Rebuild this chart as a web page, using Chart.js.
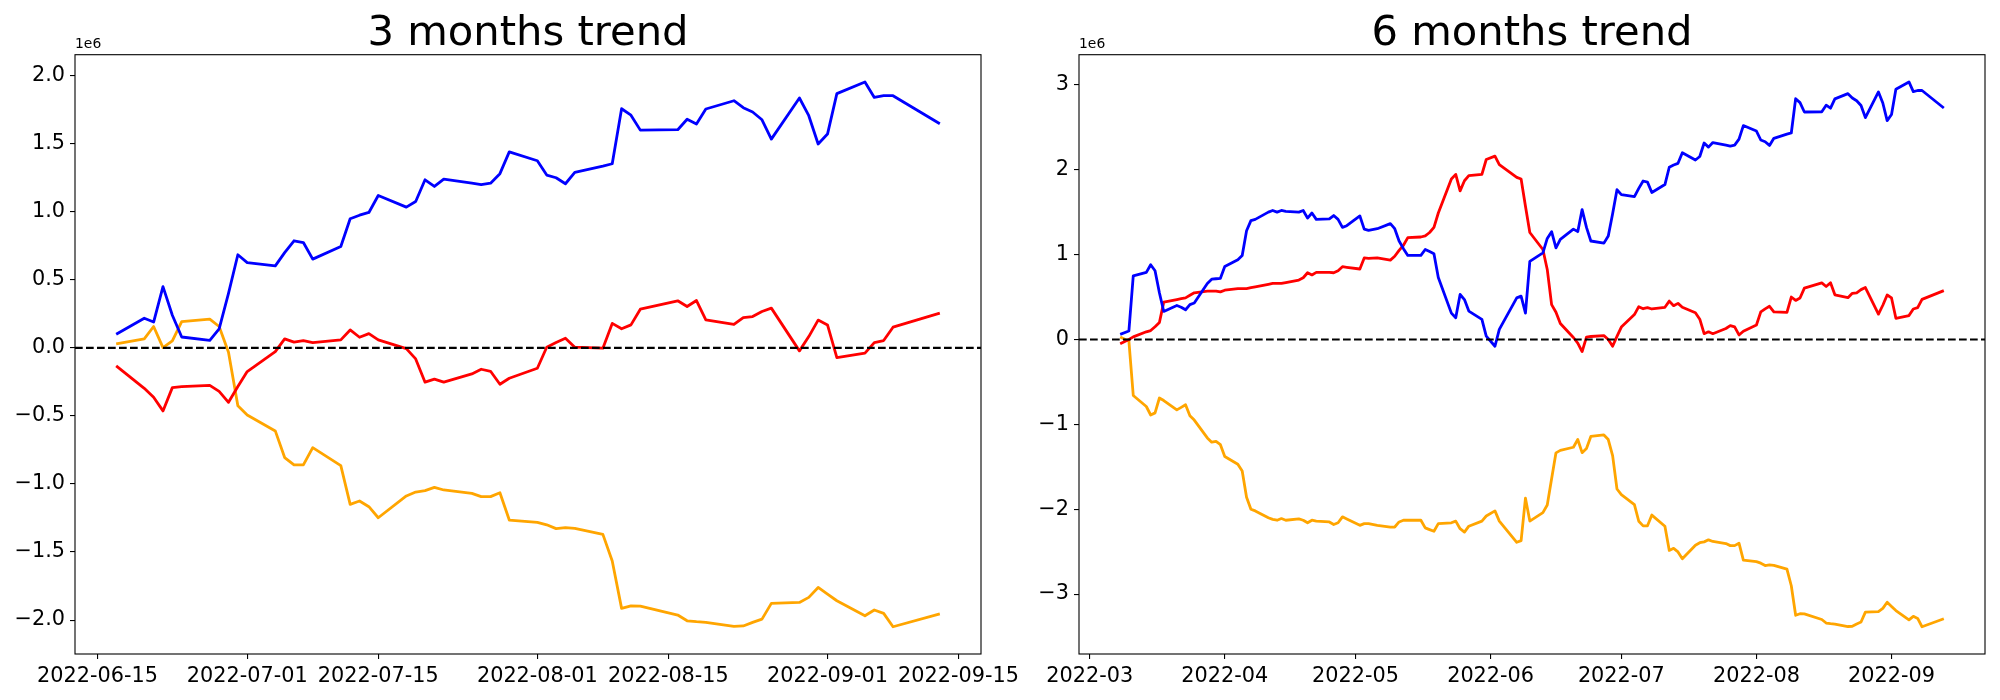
<!DOCTYPE html>
<html>
<head>
<meta charset="utf-8">
<script src="https://cdn.jsdelivr.net/npm/chart.js@4.4.0/dist/chart.umd.min.js"></script>
<style>
html, body { margin: 0; padding: 0; background: #fff; overflow: hidden; }
#wrap { position: relative; width: 2000px; height: 700px; }
canvas { position: absolute; top: 0; }
</style>
</head>
<body>
<div id="wrap">
  <canvas id="left" width="1056" height="700" style="left:0;width:1056px;height:700px"></canvas>
  <canvas id="right" width="1000" height="700" style="left:1032px;width:1000px;height:700px"></canvas>
</div>
<script>
// trading days, 6 month window (values are cumulative, in units of 1e6)
const dates6 = [
  '2022-03-08','2022-03-10','2022-03-11','2022-03-14','2022-03-15','2022-03-16','2022-03-17','2022-03-18','2022-03-21','2022-03-22','2022-03-23','2022-03-24','2022-03-25','2022-03-28','2022-03-29','2022-03-30','2022-03-31',
  '2022-04-01','2022-04-04','2022-04-05','2022-04-06','2022-04-07','2022-04-08','2022-04-11','2022-04-12','2022-04-13','2022-04-14','2022-04-15','2022-04-18','2022-04-19','2022-04-20','2022-04-21','2022-04-22','2022-04-25','2022-04-26','2022-04-27','2022-04-28','2022-04-29',
  '2022-05-02','2022-05-03','2022-05-04','2022-05-06','2022-05-09','2022-05-10','2022-05-11','2022-05-12','2022-05-13','2022-05-16','2022-05-17','2022-05-18','2022-05-19','2022-05-20','2022-05-23','2022-05-24','2022-05-25','2022-05-26','2022-05-27','2022-05-30','2022-05-31',
  '2022-06-02','2022-06-03','2022-06-07','2022-06-08','2022-06-09','2022-06-10','2022-06-13','2022-06-14','2022-06-15','2022-06-16',
  '2022-06-17','2022-06-20','2022-06-21','2022-06-22','2022-06-23','2022-06-24','2022-06-27','2022-06-28','2022-06-29','2022-06-30',
  '2022-07-01','2022-07-04','2022-07-05','2022-07-06','2022-07-07','2022-07-08','2022-07-11','2022-07-12','2022-07-13','2022-07-14','2022-07-15','2022-07-18','2022-07-19','2022-07-20','2022-07-21','2022-07-22','2022-07-25','2022-07-26','2022-07-27','2022-07-28','2022-07-29',
  '2022-08-01','2022-08-02','2022-08-03','2022-08-04','2022-08-05','2022-08-08','2022-08-09','2022-08-10','2022-08-11','2022-08-12','2022-08-16','2022-08-17','2022-08-18','2022-08-19','2022-08-22','2022-08-23','2022-08-24','2022-08-25','2022-08-26','2022-08-29','2022-08-30','2022-08-31',
  '2022-09-01','2022-09-02','2022-09-05','2022-09-06','2022-09-07','2022-09-08','2022-09-13'
]
// the 3 month window is the last 60 trading days
const dates3 = dates6.slice(-60)

const blue6 = [
  0.06, 0.10, 0.75, 0.79, 0.88, 0.81, 0.55, 0.33, 0.40, 0.38, 0.35, 0.41, 0.43, 0.66, 0.71, 0.715, 0.72,
  0.86, 0.94, 0.99, 1.28, 1.40, 1.415, 1.50, 1.52, 1.50, 1.52, 1.51, 1.50, 1.52, 1.43, 1.49, 1.415, 1.42, 1.46, 1.415, 1.32, 1.34,
  1.455, 1.30, 1.285, 1.305, 1.365, 1.305, 1.16, 1.07, 0.99, 0.99, 1.06, 1.035, 1.01, 0.73, 0.31, 0.255, 0.53, 0.47, 0.334, 0.236, 0.04,
  -0.08, 0.118, 0.49, 0.51, 0.31, 0.92, 1.02, 1.19, 1.27, 1.08,
  1.18, 1.30, 1.27, 1.53, 1.32, 1.16, 1.135, 1.22, 1.48, 1.764,
  1.707, 1.683, 1.78, 1.867, 1.854, 1.732, 1.825, 2.029, 2.055, 2.075, 2.20, 2.114, 2.156, 2.315, 2.266, 2.32, 2.29, 2.279, 2.29, 2.36, 2.52,
  2.455, 2.35, 2.33, 2.286, 2.37, 2.42, 2.433, 2.837, 2.79, 2.68, 2.683, 2.76, 2.725, 2.835, 2.896, 2.845, 2.813, 2.756, 2.614, 2.916, 2.786, 2.578,
  2.651, 2.948, 3.034, 2.92, 2.933, 2.933, 2.727
]
const red6 = [
  -0.05, 0.0, 0.03, 0.09, 0.105, 0.15, 0.20, 0.44, 0.47, 0.48, 0.49, 0.52, 0.55, 0.57, 0.57, 0.57, 0.56,
  0.58, 0.60, 0.60, 0.60, 0.61, 0.62, 0.65, 0.66, 0.66, 0.66, 0.67, 0.70, 0.727, 0.786, 0.76, 0.79, 0.79, 0.786, 0.81, 0.857, 0.85,
  0.83, 0.96, 0.955, 0.96, 0.935, 0.98, 1.05, 1.11, 1.20, 1.207, 1.22, 1.26, 1.32, 1.49, 1.89, 1.945, 1.75, 1.87, 1.93, 1.945, 2.12,
  2.16, 2.06, 1.91, 1.89, 1.57, 1.26, 1.06, 0.825, 0.41, 0.32,
  0.188, 0.023, -0.043, -0.143, 0.028, 0.035, 0.045, 0.0, -0.08, 0.036,
  0.146, 0.293, 0.386, 0.362, 0.374, 0.359, 0.379, 0.452, 0.398, 0.425, 0.379, 0.315, 0.239, 0.068, 0.09, 0.068, 0.129, 0.163, 0.148, 0.053, 0.097,
  0.17, 0.325, 0.36, 0.391, 0.325, 0.318, 0.50, 0.46, 0.489, 0.604, 0.666, 0.624, 0.668, 0.526, 0.492, 0.543, 0.55, 0.587, 0.612, 0.298, 0.403, 0.524,
  0.489, 0.249, 0.281, 0.359, 0.374, 0.472, 0.575
]
const orange6 = [
  0.03, -0.02, -0.66, -0.79, -0.89, -0.865, -0.69, -0.72, -0.83, -0.80, -0.77, -0.90, -0.95, -1.16, -1.21, -1.20, -1.24,
  -1.38, -1.47, -1.55, -1.86, -2.0, -2.02, -2.10, -2.12, -2.13, -2.11, -2.13, -2.115, -2.13, -2.16, -2.13, -2.14, -2.15, -2.18, -2.16, -2.09, -2.115,
  -2.19, -2.17, -2.17, -2.19, -2.21, -2.21, -2.15, -2.13, -2.13, -2.13, -2.22, -2.24, -2.26, -2.17, -2.16, -2.14, -2.23, -2.27, -2.20, -2.14, -2.08,
  -2.02, -2.14, -2.39, -2.37, -1.87, -2.14, -2.04, -1.95, -1.64, -1.336,
  -1.307, -1.27, -1.179, -1.334, -1.285, -1.143, -1.125, -1.179, -1.368, -1.762,
  -1.829, -1.946, -2.142, -2.196, -2.196, -2.069, -2.201, -2.486, -2.461, -2.503, -2.584, -2.424, -2.395, -2.385, -2.361, -2.38, -2.405, -2.429, -2.429, -2.40, -2.601,
  -2.618, -2.636, -2.664, -2.657, -2.662, -2.706, -2.902, -3.25, -3.231, -3.233, -3.299, -3.341, -3.348, -3.353, -3.382, -3.379, -3.353, -3.329, -3.213, -3.206, -3.169, -3.096,
  -3.145, -3.194, -3.304, -3.262, -3.287, -3.385, -3.29
]

const blue3 = [
  0.10, 0.218, 0.19, 0.45, 0.24, 0.08, 0.055, 0.14, 0.40, 0.684,
  0.627, 0.603, 0.70, 0.787, 0.774, 0.652, 0.745, 0.949, 0.975, 0.995, 1.12, 1.034, 1.076, 1.235, 1.186, 1.24, 1.21, 1.199, 1.21, 1.28, 1.44,
  1.375, 1.27, 1.25, 1.206, 1.29, 1.336, 1.353, 1.757, 1.71, 1.60, 1.603, 1.68, 1.645, 1.755, 1.816, 1.765, 1.733, 1.676, 1.534, 1.836, 1.706, 1.498,
  1.571, 1.868, 1.954, 1.84, 1.853, 1.853, 1.647
]
const red3 = [
  -0.132, -0.297, -0.363, -0.463, -0.292, -0.285, -0.275, -0.32, -0.40, -0.284,
  -0.174, -0.027, 0.066, 0.042, 0.054, 0.039, 0.059, 0.132, 0.078, 0.105, 0.059, -0.005, -0.081, -0.252, -0.23, -0.252, -0.191, -0.157, -0.172, -0.267, -0.223,
  -0.15, 0.005, 0.04, 0.071, 0.005, -0.002, 0.18, 0.14, 0.169, 0.284, 0.346, 0.304, 0.348, 0.206, 0.172, 0.223, 0.23, 0.267, 0.292, -0.022, 0.083, 0.204,
  0.169, -0.071, -0.039, 0.039, 0.054, 0.152, 0.255
]
const orange3 = [
  0.029, 0.066, 0.157, 0.002, 0.051, 0.193, 0.211, 0.157, -0.032, -0.426,
  -0.493, -0.61, -0.806, -0.86, -0.86, -0.733, -0.865, -1.15, -1.125, -1.167, -1.248, -1.088, -1.059, -1.049, -1.025, -1.044, -1.069, -1.093, -1.093, -1.064, -1.265,
  -1.282, -1.30, -1.328, -1.321, -1.326, -1.37, -1.566, -1.914, -1.895, -1.897, -1.963, -2.005, -2.012, -2.017, -2.046, -2.043, -2.017, -1.993, -1.877, -1.87, -1.833, -1.76,
  -1.809, -1.858, -1.968, -1.926, -1.951, -2.049, -1.954
]

const xTicks3 = ['2022-06-15', '2022-07-01', '2022-07-15', '2022-08-01', '2022-08-15', '2022-09-01', '2022-09-15']
const xTicks6 = ['2022-03', '2022-04', '2022-05', '2022-06', '2022-07', '2022-08', '2022-09']
const yTicks3 = [-2.0, -1.5, -1.0, -0.5, 0.0, 0.5, 1.0, 1.5, 2.0]
const yTicks6 = [-3, -2, -1, 0, 1, 2, 3]
const offsetLabel = '1e6'

Chart.defaults.font.family = "'DejaVu Sans', sans-serif"
Chart.defaults.color = '#000'

function toMs(s) {
  return Date.parse(s.length == 7 ? s + '-01' : s)
}

// matplotlib style 5% margins
function withMargin(lo, hi) {
  let d = (hi - lo) * 0.05
  return [lo - d, hi + d]
}

function drawtrend(canvasId, title, dates, series, xTicks, yTicks, decimals, axisWidth, padRight) {
  const xs = dates.map(toMs)
  const xr = withMargin(xs[0], xs[xs.length - 1])
  let all = []
  series.forEach(s => { all = all.concat(s.data) })
  const yr = withMargin(Math.min(...all), Math.max(...all))

  const frame = {
    id: 'frame',
    afterDatasetsDraw(chart) {
      const ctx = chart.ctx
      const a = chart.chartArea
      const y0 = chart.scales.y.getPixelForValue(0)
      ctx.save()
      ctx.strokeStyle = '#000'
      ctx.lineWidth = 2.1
      ctx.setLineDash([7.7, 3.3])
      ctx.beginPath()
      ctx.moveTo(a.left, y0)
      ctx.lineTo(a.right, y0)
      ctx.stroke()
      ctx.setLineDash([])
      ctx.lineWidth = 1.1
      ctx.strokeRect(a.left, a.top, a.right - a.left, a.bottom - a.top)
      ctx.fillStyle = '#000'
      ctx.font = "13.9px 'DejaVu Sans'"
      ctx.textAlign = 'left'
      ctx.textBaseline = 'bottom'
      ctx.fillText(offsetLabel, a.left, a.top - 3)
      ctx.restore()
    }
  }

  const gridStyle = { display: true, drawOnChartArea: false, drawTicks: true, tickLength: 5, color: '#000', lineWidth: 1.1 }

  new Chart(document.getElementById(canvasId), {
    type: 'line',
    data: {
      datasets: series.map(s => ({
        label: s.label,
        data: s.data.map((v, i) => ({ x: xs[i], y: v })),
        borderColor: s.color,
        borderWidth: 2.8,
        borderJoinStyle: 'round',
        pointRadius: 0,
        tension: 0,
        fill: false
      }))
    },
    options: {
      responsive: false,
      animation: false,
      devicePixelRatio: 1,
      layout: { padding: { left: 0, right: padRight, top: 0, bottom: 0 } },
      plugins: {
        legend: { display: false },
        tooltip: { enabled: false },
        title: {
          display: true,
          fullSize: false,
          text: title,
          color: '#000',
          font: { size: 41.7, weight: 'normal', lineHeight: 1 },
          padding: { top: 13, bottom: 0 }
        }
      },
      scales: {
        x: {
          type: 'linear',
          min: xr[0],
          max: xr[1],
          afterBuildTicks: scale => { scale.ticks = xTicks.map(t => ({ value: toMs(t) })) },
          afterFit: scale => { scale.height = 46 },
          ticks: {
            font: { size: 20.8 },
            padding: 5,
            maxRotation: 0,
            autoSkip: false,
            callback: (v, i) => xTicks[i]
          },
          grid: gridStyle,
          border: { display: false }
        },
        y: {
          min: yr[0],
          max: yr[1],
          afterBuildTicks: scale => { scale.ticks = yTicks.map(v => ({ value: v })) },
          afterFit: scale => { scale.width = axisWidth },
          ticks: {
            font: { size: 20.8 },
            padding: 5,
            callback: v => v.toFixed(decimals).replace('-', '\u2212')
          },
          grid: gridStyle,
          border: { display: false }
        }
      }
    },
    plugins: [frame]
  })
}

drawtrend('left', '3 months trend', dates3, [
  { label: 'blue', data: blue3, color: '#0000ff' },
  { label: 'red', data: red3, color: '#ff0000' },
  { label: 'orange', data: orange3, color: '#ffa500' }
], xTicks3, yTicks3, 1, 75, 75)

drawtrend('right', '6 months trend', dates6, [
  { label: 'blue', data: blue6, color: '#0000ff' },
  { label: 'red', data: red6, color: '#ff0000' },
  { label: 'orange', data: orange6, color: '#ffa500' }
], xTicks6, yTicks6, 0, 47, 47)
</script>
</body>
</html>
